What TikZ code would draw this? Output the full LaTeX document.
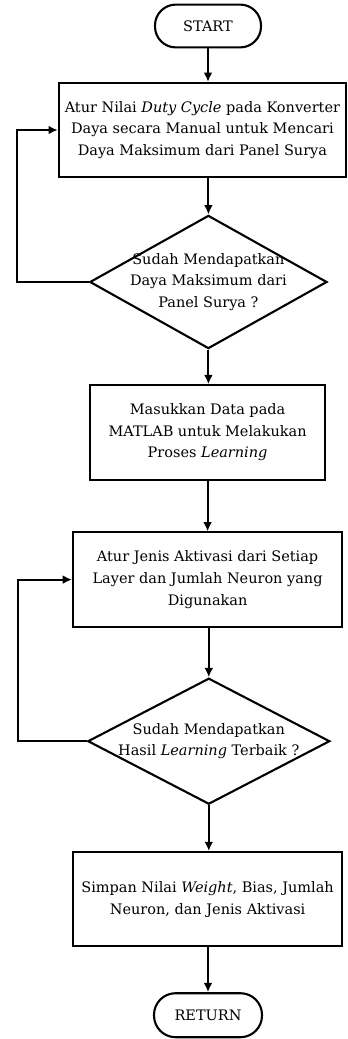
\documentclass[tikz,border=0pt]{standalone}
\usepackage{fontspec}
\setmainfont{DejaVu Serif}
\usetikzlibrary{arrows.meta,shapes.geometric,calc}

\begin{document}
\begin{tikzpicture}[
        term/.style={draw,line width=1.5pt,rounded corners=0.52cm,minimum width=2.65cm,minimum height=1.07cm},
        proc/.style={draw,line width=1.5pt,minimum height=2.36cm,align=center,inner sep=0pt},
        dec/.style={draw,diamond,line width=1.5pt,inner sep=0pt},
        arr/.style={-{Latex[length=2.3mm,width=2.2mm]},line width=1.5pt},
        font=\fontsize{10.3}{15.4}\selectfont]
            \useasboundingbox (0,0) rectangle (8.675,-25.975);

            \node[term] (start) at (5.2,-0.65) {START};
            \node[proc,minimum width=7.18cm] (b1) at (5.06,-3.25)
                {Atur Nilai \textit{Duty Cycle} pada Konverter\\Daya secara Manual untuk Mencari\\Daya Maksimum dari Panel Surya};
            \node[dec,minimum width=5.93cm,minimum height=3.33cm] (q1) at (5.21,-7.05) {};
            \node[align=center] (t1) at (q1) {Sudah Mendapatkan\\Daya Maksimum dari\\Panel Surya ?};
            \node[proc,minimum width=5.88cm] (b2) at (5.19,-10.81)
                {Masukkan Data pada\\MATLAB untuk Melakukan\\Proses \textit{Learning}};
            \node[proc,minimum width=6.73cm] (b3) at (5.19,-14.49)
                {Atur Jenis Aktivasi dari Setiap\\Layer dan Jumlah Neuron yang\\Digunakan};
            \node[dec,minimum width=6.05cm,minimum height=3.15cm] (q2) at (5.22,-18.53) {};
            \node[align=center] (t2) at (q2) {Sudah Mendapatkan\\Hasil \textit{Learning} Terbaik ?};
            \node[proc,minimum width=6.73cm] (b4) at (5.19,-22.48)
                {Simpan Nilai \textit{Weight}, Bias, Jumlah\\Neuron, dan Jenis Aktivasi};
            \node[term,minimum width=2.7cm,minimum height=1.1cm,rounded corners=0.54cm] (ret) at (5.2,-25.38) {RETURN};

            \draw[arr](start.south)--(start.south |- b1.north);
            \draw[arr](q1.north |- b1.south)--(q1.north);
            \draw[arr](q1.south)--(q1.south |- b2.north);
            \draw[arr](b2.south)--(b3.north);
            \draw[arr](q2.north |- b3.south)--(q2.north);
            \draw[arr](q2.south)--(q2.south |- b4.north);
            \draw[arr](ret.north |- b4.south)--(ret.north);

            \coordinate (c1) at (0.43,-7.05);
            \coordinate (c2) at (0.45,-18.53);
            \draw[arr](q1.west)--(c1)|-(b1.west);
            \draw[arr](q2.west)--(c2)|-(b3.west);
        \end{tikzpicture}
\end{document}
